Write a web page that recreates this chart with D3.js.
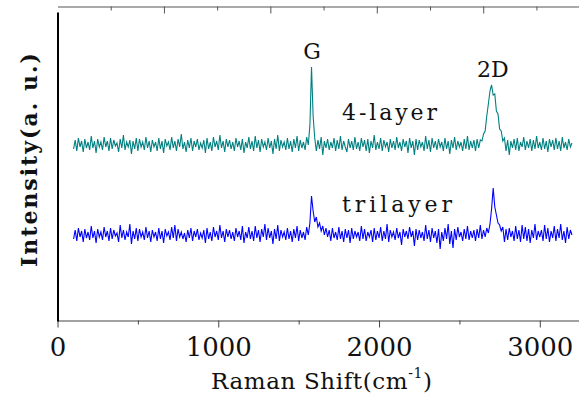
<!DOCTYPE html>
<html>
<head>
<meta charset="utf-8">
<script src="https://cdn.jsdelivr.net/npm/d3@7"></script>
<style>
  body { margin: 0; background: #fff; }
  svg { display: block; }
  text { font-family: "DejaVu Serif", "Liberation Serif", serif; fill: #111; }
</style>
</head>
<body>
<svg id="chart" width="579" height="400"></svg>
<script>
var shiftStart = 100, shiftStep = 10;

var fourLayer = [
  172,181,170,183,174,180,169,182,173,179,
  171,185,173,180,168,182,174,179,171,184,
  174,180,170,183,172,181,175,178,169,182,
  173,186,171,179,174,181,167,180,172,183,
  170,182,174,179,171,184,173,180,169,181,
  174,179,170,183,172,180,168,182,175,179,
  171,184,173,180,170,182,174,187,172,179,
  169,181,173,183,170,180,174,182,171,178,
  173,181,168,183,172,179,170,184,174,180,
  171,186,173,180,169,182,174,181,172,179,
  170,183,174,180,171,182,168,179,173,184,
  172,180,170,185,173,181,169,182,174,179,
  171,183,173,180,167,182,172,186,170,181,
  174,179,171,183,172,180,169,182,173,185,
  170,181,173,179,171,184,176,196,254,205,
  183,170,181,172,184,166,180,173,182,171,
  179,173,183,170,181,172,185,171,180,174,
  169,182,173,180,171,184,172,179,170,183,
  174,181,170,182,168,180,173,186,171,179,
  172,183,170,181,174,179,169,182,173,180,
  171,184,173,179,170,182,174,180,168,183,
  173,180,166,182,171,181,174,179,170,185,
  172,181,169,183,173,180,171,182,174,179,
  170,183,172,180,167,181,173,184,171,180,
  174,179,170,182,172,185,171,180,173,181,
  170,182,173,181,180,187,190,205,217,230,
  236,226,227,210,207,192,190,180,183,170,
  181,166,180,173,182,171,183,170,179,174,
  184,171,180,173,182,170,181,172,185,173,
  179,171,183,172,180,169,182,174,181,171,
  183,172,180,170,184,173,179,171,182,174,
  178
];

var trilayer = [
  82,91,80,93,84,90,79,92,83,89,
  81,95,83,90,78,92,84,89,81,94,
  84,90,80,93,82,91,85,88,79,96,
  83,91,81,89,84,97,77,90,82,93,
  80,92,84,89,81,94,83,90,79,91,
  84,89,80,93,82,90,78,92,85,89,
  81,94,83,96,80,92,84,89,82,88,
  79,91,83,93,80,90,84,92,81,88,
  83,91,78,93,82,89,80,94,84,90,
  81,96,83,90,79,92,84,91,82,89,
  80,93,84,90,81,95,78,89,83,94,
  82,90,80,95,83,91,79,92,84,97,
  81,93,83,90,77,92,82,96,80,91,
  84,89,81,93,82,90,79,92,83,95,
  80,91,83,89,81,94,86,98,125,110,
  99,104,94,98,90,95,86,93,84,91,
  80,93,83,89,81,94,82,90,79,92,
  83,91,78,93,82,90,84,89,80,95,
  82,92,80,89,84,91,79,93,81,90,
  83,94,80,90,82,97,79,91,84,89,
  81,93,83,89,76,92,84,90,82,94,
  84,90,75,92,81,91,83,89,80,96,
  82,91,79,93,83,90,78,92,72,89,
  80,93,82,97,77,90,73,92,81,94,
  84,89,80,92,82,95,81,90,83,91,
  80,92,83,96,82,91,84,93,88,97,
  112,133,114,106,98,96,90,94,79,92,
  81,93,84,90,80,95,82,91,79,96,
  82,94,80,92,78,91,83,97,81,90,
  84,91,80,96,82,93,79,90,83,95,
  80,92,83,97,81,90,78,94,82,91,
  86
];

var seriesNames = ["4-layer", "trilayer"];
var seriesColors = ["#008080", "#0000ff"];
var peakNames = ["G", "2D"];
var peakShifts = [1583, 2708];

var xMajorTicks = [0, 1000, 2000, 3000];
var xMinorTicks = [500, 1500, 2500];
var topMajorTicks = [662, 1324, 1986, 2648];
var topMinorTicks = [331, 993, 1655, 2317, 2979];

function draw() {
  var svg = d3.select("#chart");
  svg.selectAll("*").remove();

  var x = d3.scaleLinear().domain([0, 3250]).range([57.5, 580]);
  var y = d3.scaleLinear().domain([0, 309]).range([321, 12]);

  var series = [fourLayer, trilayer].map(function(vals) {
    return vals.map(function(v, i) { return {shift: shiftStart + i * shiftStep, v: v}; });
  });

  var line = d3.line()
    .x(function(d) { return x(d.shift); })
    .y(function(d) { return y(d.v); });

  svg.selectAll("path.spec")
    .data(series)
    .enter()
    .append("path")
    .attr("class", "spec")
    .attr("d", line)
    .attr("fill", "none")
    .attr("stroke", function(d, i) { return seriesColors[i]; })
    .attr("stroke-width", 1.1);

  // top axis, ticks pointing inward
  var top = svg.append("g").attr("transform", "translate(0,6.5)");
  top.call(d3.axisTop(x).tickValues(topMajorTicks).tickSize(-7).tickSizeOuter(0).tickFormat(""));
  top.append("g").call(d3.axisTop(x).tickValues(topMinorTicks).tickSize(-4).tickSizeOuter(0).tickFormat(""))
    .select(".domain").remove();
  top.selectAll("path, line").attr("stroke", "#555");

  // bottom axis
  var bottom = svg.append("g").attr("transform", "translate(0,320.5)");
  bottom.call(d3.axisBottom(x).tickValues(xMajorTicks).tickSize(7).tickSizeOuter(0)
    .tickPadding(10).tickFormat(d3.format("d")));
  bottom.append("g").call(d3.axisBottom(x).tickValues(xMinorTicks).tickSize(4).tickSizeOuter(0).tickFormat(""))
    .select(".domain").remove();
  bottom.selectAll("path, line").attr("stroke", "#444");
  bottom.selectAll("text")
    .attr("font-family", "Liberation Serif, Times New Roman, serif")
    .attr("font-size", 26)
    .attr("fill", "#111");

  // left axis
  var left = svg.append("g").attr("transform", "translate(57.5,0)");
  left.call(d3.axisLeft(y).tickValues([]).tickSizeOuter(0));
  left.select(".domain").attr("stroke", "#000").attr("stroke-width", 2);

  // axis titles
  var xt = svg.append("text")
    .attr("x", 211)
    .attr("y", 389)
    .attr("font-size", 23)
    .attr("textLength", 221)
    .attr("lengthAdjust", "spacing");
  xt.append("tspan").text("Raman Shift(cm");
  xt.append("tspan").attr("font-size", 14).attr("dy", -11).text("-1");
  xt.append("tspan").attr("dy", 11).text(")");

  svg.append("text")
    .attr("transform", "translate(37,160) rotate(-90)")
    .attr("text-anchor", "middle")
    .attr("font-size", 22)
    .attr("font-weight", "bold")
    .attr("textLength", 214)
    .attr("lengthAdjust", "spacing")
    .text("Intensity(a. u.)");

  // peak labels
  var peakTops = [d3.max(fourLayer.slice(140, 155)), d3.max(fourLayer.slice(255, 285))];
  svg.selectAll("text.peak")
    .data(peakNames)
    .enter()
    .append("text")
    .attr("class", "peak")
    .attr("x", function(d, i) { return x(peakShifts[i]); })
    .attr("y", function(d, i) { return y(peakTops[i]) - 8; })
    .attr("text-anchor", "middle")
    .attr("font-size", 22)
    .text(function(d) { return d; });

  // series labels
  var labelWidths = [95, 110];
  svg.selectAll("text.series")
    .data(seriesNames)
    .enter()
    .append("text")
    .attr("class", "series")
    .attr("x", x(1770))
    .attr("y", function(d, i) { return y(d3.median(i === 0 ? fourLayer : trilayer)) - (i === 0 ? 22 : 20); })
    .attr("font-size", 22)
    .attr("textLength", function(d, i) { return labelWidths[i]; })
    .attr("lengthAdjust", "spacing")
    .text(function(d) { return d; });
}

draw();
</script>
</body>
</html>
